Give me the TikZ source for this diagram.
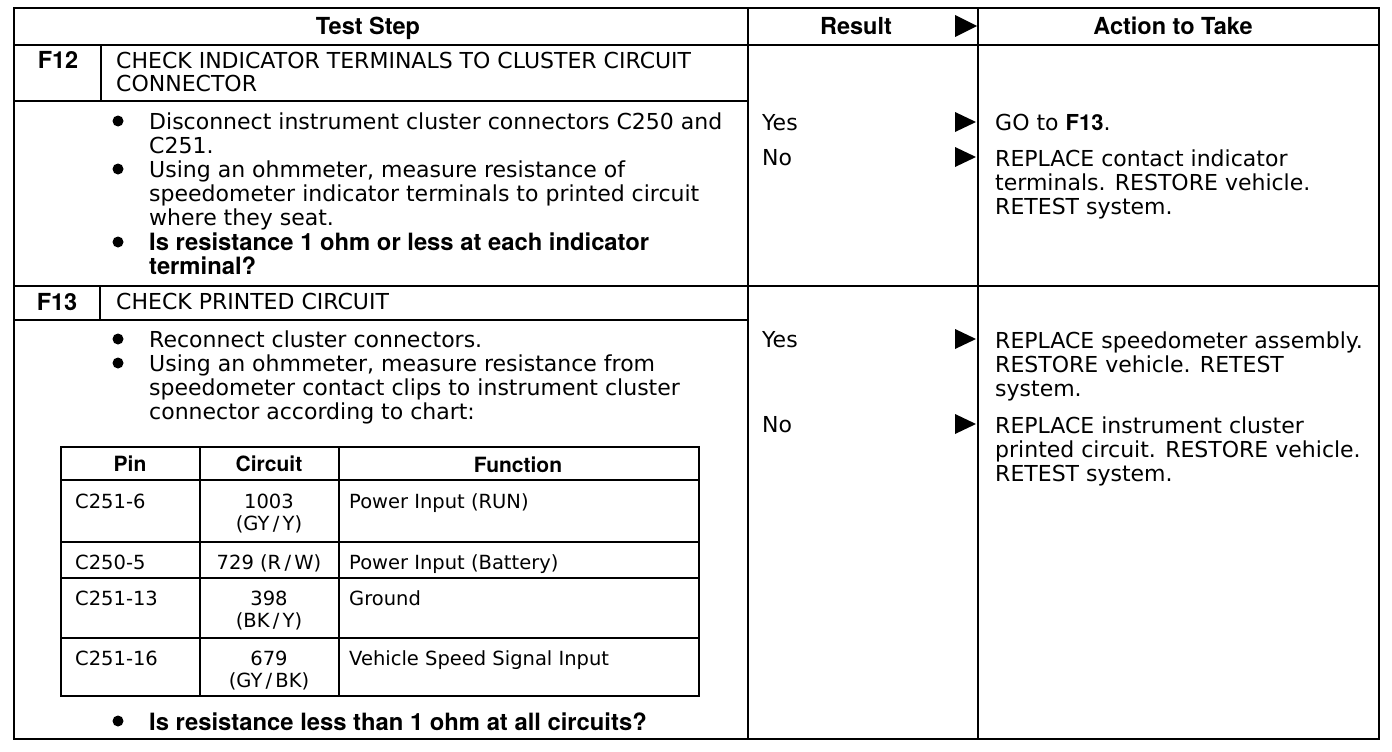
\documentclass[tikz,border=0pt]{standalone}
\usepackage{fontspec}
\setmainfont{DejaVu Sans}
\newfontfamily\heavy{TeX Gyre Heros}
\usepackage{tikz}

\newcommand\bodysz{\fontsize{22}{24}\selectfont}
\newcommand\boldsz{\heavy\bfseries\fontsize{23.8}{24}\selectfont}
\newcommand\chartsz{\fontsize{19.5}{22}\selectfont}
\newcommand\resarrow[2]{\fill (#1,#2) -- ++(-21,-10) -- ++(0,20) -- cycle;}

\tikzset{
  frame/.style={line width=1.8pt},
  chart/.style={line width=2.8pt},
  txt/.style={anchor=base west, inner sep=0pt, align=left, font=\bodysz},
  bold/.style={txt, font=\boldsz},
  head/.style={anchor=base, inner sep=0pt, font=\heavy\bfseries\fontsize{23.5}{24}\selectfont},
  cell/.style={anchor=base west, inner sep=0pt, align=left, font=\chartsz},
  ccell/.style={anchor=base, inner sep=0pt, align=center, font=\chartsz},
  chead/.style={anchor=base, inner sep=0pt, font=\heavy\bfseries\fontsize{21}{22}\selectfont}
}

\begin{document}
\begin{tikzpicture}[x=1pt, y=-1pt]
\useasboundingbox (0,0) rectangle (1392,752);

% frame and rules
\draw[frame] (14,8) rectangle (1379,739);
\draw[frame] (14,45) -- (1379,45);
\draw[frame] (748,8) -- (748,739);
\draw[frame] (978,8) -- (978,739);
\draw[frame] (14,101) -- (748,101);
\draw[frame] (101,45) -- (101,101);
\draw[frame] (14,286) -- (1379,286);
\draw[frame] (14,320) -- (748,320);
\draw[frame] (100,286) -- (100,320);

% column heads
\node[head] (hstep) at (368,35) {Test Step};
\node[head] (hres) at (856,35) {Result};
\node[head] (hact) at (1173,35) {Action to Take};
\fill (977,26) -- ++(-22,-11) -- ++(0,22) -- cycle;

% F12 (multi-line nodes sit on their last baseline)
\node[head] (f12id) at (58,69) {F12};
\node[txt] (f12title) at (116,92) {CHECK INDICATOR TERMINALS TO CLUSTER CIRCUIT\\CONNECTOR};
\node[txt] (f12a) at (149,153) {Disconnect instrument cluster connectors C250 and\\C251.};
\node[txt] (f12b) at (149,225) {Using an ohmmeter, measure resistance of\\speedometer indicator terminals to printed circuit\\where they seat.};
\node[bold] (f12c) at (149,274) {Is resistance 1 ohm or less at each indicator\\terminal?};
\node[txt] (f12yes) at (762,130) {Yes};
\node[txt] (f12no) at (762,165) {No};
\node[txt] (f12go) at (995,130) {GO to {\heavy\bfseries F13}.};
\node[txt] (f12rep) at (995,214) {REPLACE contact indicator\\terminals. RESTORE vehicle.\\RETEST system.};

% F13
\node[head] (f13id) at (57,310) {F13};
\node[txt] (f13title) at (116,309) {CHECK PRINTED CIRCUIT};
\node[txt] (f13a) at (149,347) {Reconnect cluster connectors.};
\node[txt] (f13b) at (149,419) {Using an ohmmeter, measure resistance from\\speedometer contact clips to instrument cluster\\connector according to chart:};
\node[bold] (f13c) at (149,730) {Is resistance less than 1 ohm at all circuits?};
\node[txt] (f13yes) at (762,347) {Yes};
\node[txt] (f13no) at (762,432) {No};
\node[txt] (f13rep) at (995,396) {REPLACE speedometer assembly.\\RESTORE vehicle. RETEST\\system.};
\node[txt] (f13ins) at (995,481) {REPLACE instrument cluster\\printed circuit. RESTORE vehicle.\\RETEST system.};

\foreach \y in {121,169,242,339,363,721} \fill (118,\y) circle (5.5);
\foreach \y in {122,157,339,424} {\resarrow{976}{\y}}

% chart
\draw[chart] (61,447) rectangle (699,696);
\foreach \y in {480,542,578,638} \draw[chart] (61,\y) -- (699,\y);
\draw[chart] (200,447) -- (200,696);
\draw[chart] (339,447) -- (339,696);
\node[chead] (pin) at (130,471) {Pin};
\node[chead] (circ) at (269,471) {Circuit};
\node[chead] (func) at (518,472) {Function};
\node[cell] (p1) at (75,508) {C251-6};
\node[ccell] (c1) at (269,530) {1003\\(GY\,/\,Y)};
\node[cell] (fn1) at (349,508) {Power Input (RUN)};
\node[cell] (p2) at (75,569) {C250-5};
\node[ccell] (c2) at (269,569) {729 (R\,/\,W)};
\node[cell] (fn2) at (349,569) {Power Input (Battery)};
\node[cell] (p3) at (75,605) {C251-13};
\node[ccell] (c3) at (269,627) {398\\(BK\,/\,Y)};
\node[cell] (fn3) at (349,605) {Ground};
\node[cell] (p4) at (75,665) {C251-16};
\node[ccell] (c4) at (269,687) {679\\(GY\,/\,BK)};
\node[cell] (fn4) at (349,665) {Vehicle Speed Signal Input};
\end{tikzpicture}
\end{document}
